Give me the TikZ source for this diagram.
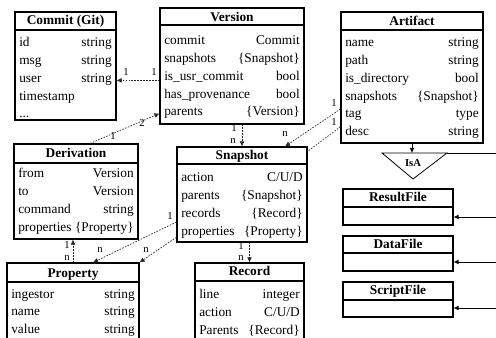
\documentclass[tikz,border=0pt]{standalone}
\usepackage{fontspec}
\setmainfont{Liberation Serif}
\usepackage{tikz}
\usetikzlibrary{arrows.meta,calc,fit}

\begin{document}
\begin{tikzpicture}[x=0.75pt,y=0.75pt,yscale=-1,xscale=1,
  classbox/.style={draw, line width=0.8pt, inner sep=0pt, fit={#1}},
  classname/.style={anchor=base, inner sep=0pt, font=\fontsize{10}{12}\selectfont\bfseries},
  attr/.style={anchor=base west, inner sep=0pt, font=\fontsize{10}{12}\selectfont},
  kind/.style={anchor=base east, inner sep=0pt, font=\fontsize{10}{12}\selectfont},
  mult/.style={inner sep=0pt, font=\fontsize{8}{9}\selectfont},
  dep/.style={black!85, line width=0.5pt, dash pattern=on 1.2pt off 1pt},
  deparrow/.style={dep, -{Latex[length=3.8pt,width=3.6pt]}},
  isaline/.style={line width=0.6pt},
  isaarrow/.style={isaline, -{Latex[length=3.8pt,width=3.6pt]}}]
%set diagram window 496 x 338, the lower boxes run past it
\path [use as bounding box, clip] (0,0) rectangle (496,338);

%Shape: Class [Commit (Git)]
\node (commit) [classbox={(15,12) (116,120)}] {};
\draw [line width=0.8pt] (15,30) -- (116,30);
% Text Node
\draw (65.5,25) node (commitname) [classname] {Commit (Git)};
% Text Node
\draw (19,47) node (cid) [attr] {id};
\draw (112,47) node (cidT) [kind] {string};
% Text Node
\draw (19,64.75) node (cmsg) [attr] {msg};
\draw (112,64.75) node (cmsgT) [kind] {string};
% Text Node
\draw (19,82.5) node (cuser) [attr] {user};
\draw (112,82.5) node (cuserT) [kind] {string};
% Text Node
\draw (19,100.25) node (cstamp) [attr] {timestamp};
% Text Node
\draw (19,118) node (cdots) [attr] {...};

%Shape: Class [Version]
\node (version) [classbox={(160,8) (304,124)}] {};
\draw [line width=0.8pt] (160,25) -- (304,25);
% Text Node
\draw (232,21.5) node (versionname) [classname] {Version};
% Text Node
\draw (164,45) node (vcommit) [attr] {commit};
\draw (300,45) node (vcommitT) [kind] {Commit};
% Text Node
\draw (164,62.7) node (vsnaps) [attr] {snapshots};
\draw (300,62.7) node (vsnapsT) [kind] {\{Snapshot\}};
% Text Node
\draw (164,80.4) node (vusr) [attr] {is\_usr\_commit};
\draw (300,80.4) node (vusrT) [kind] {bool};
% Text Node
\draw (164,98.1) node (vprov) [attr] {has\_provenance};
\draw (300,98.1) node (vprovT) [kind] {bool};
% Text Node
\draw (164,115.8) node (vparents) [attr] {parents};
\draw (300,115.8) node (vparentsT) [kind] {\{Version\}};

%Shape: Class [Artifact]
\node (artifact) [classbox={(341,12) (483,143)}] {};
\draw [line width=0.8pt] (341,30) -- (483,30);
% Text Node
\draw (412,25.5) node (artifactname) [classname] {Artifact};
% Text Node
\draw (345,47) node (aname) [attr] {name};
\draw (479,47) node (anameT) [kind] {string};
% Text Node
\draw (345,64.75) node (apath) [attr] {path};
\draw (479,64.75) node (apathT) [kind] {string};
% Text Node
\draw (345,82.5) node (adir) [attr] {is\_directory};
\draw (479,82.5) node (adirT) [kind] {bool};
% Text Node
\draw (345,100.25) node (asnaps) [attr] {snapshots};
\draw (479,100.25) node (asnapsT) [kind] {\{Snapshot\}};
% Text Node
\draw (345,118) node (atag) [attr] {tag};
\draw (479,118) node (atagT) [kind] {type};
% Text Node
\draw (345,135.75) node (adesc) [attr] {desc};
\draw (479,135.75) node (adescT) [kind] {string};

%Shape: Class [Derivation]
\node (derivation) [classbox={(14,144) (138,239)}] {};
\draw [line width=0.8pt] (14,163) -- (138,163);
% Text Node
\draw (76,158) node (derivationname) [classname] {Derivation};
% Text Node
\draw (18,178) node (dfrom) [attr] {from};
\draw (134,178) node (dfromT) [kind] {Version};
% Text Node
\draw (18,195.75) node (dto) [attr] {to};
\draw (134,195.75) node (dtoT) [kind] {Version};
% Text Node
\draw (18,213.5) node (dcmd) [attr] {command};
\draw (134,213.5) node (dcmdT) [kind] {string};
% Text Node
\draw (18,231.25) node (dprops) [attr] {properties};
\draw (134,231.25) node (dpropsT) [kind] {\{Property\}};

%Shape: Class [Snapshot]
\node (snapshot) [classbox={(177,147) (307,242)}] {};
\draw [line width=0.8pt] (177,164) -- (307,164);
% Text Node
\draw (242,160) node (snapshotname) [classname] {Snapshot};
% Text Node
\draw (181,182) node (saction) [attr] {action};
\draw (303,182) node (sactionT) [kind] {C/U/D};
% Text Node
\draw (181,199.75) node (sparents) [attr] {parents};
\draw (303,199.75) node (sparentsT) [kind] {\{Snapshot\}};
% Text Node
\draw (181,217.5) node (srecords) [attr] {records};
\draw (303,217.5) node (srecordsT) [kind] {\{Record\}};
% Text Node
\draw (181,235.25) node (sprops) [attr] {properties};
\draw (303,235.25) node (spropsT) [kind] {\{Property\}};

%Shape: Class [Property]
\node (property) [classbox={(7,263) (139,346)}] {};
\draw [line width=0.8pt] (7,282) -- (139,282);
% Text Node
\draw (73,277) node (propertyname) [classname] {Property};
% Text Node
\draw (11,298) node (pingest) [attr] {ingestor};
\draw (135,298) node (pingestT) [kind] {string};
% Text Node
\draw (11,315.75) node (pname) [attr] {name};
\draw (135,315.75) node (pnameT) [kind] {string};
% Text Node
\draw (11,333.5) node (pvalue) [attr] {value};
\draw (135,333.5) node (pvalueT) [kind] {string};

%Shape: Class [Record]
\node (record) [classbox={(195,263) (304,346)}] {};
\draw [line width=0.8pt] (195,281) -- (304,281);
% Text Node
\draw (249.5,276) node (recordname) [classname] {Record};
% Text Node
\draw (199,299) node (rline) [attr] {line};
\draw (300,299) node (rlineT) [kind] {integer};
% Text Node
\draw (199,316.75) node (raction) [attr] {action};
\draw (300,316.75) node (ractionT) [kind] {C/U/D};
% Text Node
\draw (199,334.5) node (rparents) [attr] {Parents};
\draw (300,334.5) node (rparentsT) [kind] {\{Record\}};

%Shape: Class [ResultFile]
\node (resultfile) [classbox={(343,189) (453,225)}] {};
\draw [line width=0.8pt] (343,207) -- (453,207);
% Text Node
\draw (398,202) node (resultfilename) [classname] {ResultFile};

%Shape: Class [DataFile]
\node (datafile) [classbox={(343,236) (453,271)}] {};
\draw [line width=0.8pt] (343,253) -- (453,253);
% Text Node
\draw (398,249) node (datafilename) [classname] {DataFile};

%Shape: Class [ScriptFile]
\node (scriptfile) [classbox={(343,282) (453,317)}] {};
\draw [line width=0.8pt] (343,300) -- (453,300);
% Text Node
\draw (398,295) node (scriptfilename) [classname] {ScriptFile};

%Shape: Triangle [IsA]
\coordinate (isaL) at (382,153);
\coordinate (isaTop) at (412,153);
\coordinate (isaR) at (447,153);
\coordinate (isaB) at (413,179);
\draw [line width=0.6pt] (isaL) -- (isaR) -- (isaB) -- cycle;
% Text Node
\draw (413,166.5) node (isa) [anchor=base, inner sep=0pt, font=\fontsize{8}{9}\selectfont\bfseries] {IsA};

%rail on the right, past the window
\coordinate (rail1) at (496,153);
\coordinate (rail2) at (496,217);
\coordinate (rail3) at (496,262);
\coordinate (rail4) at (496,308);

% Connectors
\draw [deparrow] (version.west |- vusr.base) -- (commit.east |- vusr.base);
\draw [deparrow] ($(derivation.north)+(14,0)$) -- (version.west |- vparents.center);
\draw [deparrow] (snapshot.north |- version.south) -- (snapshot.north);
\draw [deparrow] ($(artifact.west |- atag.base)+(0,-9)$) -- ($(snapshot.north)+(43,0)$);
\draw [dep] ($(artifact.west |- adesc.base)+(0,-9)$) -- ($(snapshot.north east)+(0,5)$);
\draw [deparrow] ($(snapshot.west |- srecords.base)+(0,4.5)$) -- ($(property.north)+(20,0)$);
\draw [deparrow] ($(snapshot.west |- sprops.base)+(0,2)$) -- (property.north east);
\draw [deparrow] (property.north) -- (property.north |- derivation.south);
\draw [deparrow] (record.north |- snapshot.south) -- (record.north);
\draw [isaarrow] (artifact.south) -- (isaTop);
\draw [isaline] (isaR) -- (rail1);
\draw [isaarrow] (rail2) -- (resultfile.east |- rail2);
\draw [isaarrow] (rail3) -- (datafile.east |- rail3);
\draw [isaarrow] (rail4) -- (scriptfile.east |- rail4);

% Text Node
\draw (126,72) node (m1) [mult] {1};
% Text Node
\draw (154,72) node (m2) [mult] {1};
% Text Node
\draw (113,136) node (m3) [mult] {1};
% Text Node
\draw (142,123) node (m4) [mult] {2};
% Text Node
\draw (234,128) node (m5) [mult] {1};
% Text Node
\draw (233,141) node (m6) [mult] {n};
% Text Node
\draw (334,103) node (m7) [mult] {1};
% Text Node
\draw (334,122) node (m8) [mult] {1};
% Text Node
\draw (285,134) node (m9) [mult] {n};
% Text Node
\draw (170,216) node (m10) [mult] {1};
% Text Node
\draw (100,250) node (m11) [mult] {n};
% Text Node
\draw (146,250) node (m12) [mult] {n};
% Text Node
\draw (67,245) node (m13) [mult] {1};
% Text Node
\draw (67,258) node (m14) [mult] {n};
% Text Node
\draw (241,246) node (m15) [mult] {1};
% Text Node
\draw (241,258) node (m16) [mult] {n};
\end{tikzpicture}
\end{document}
